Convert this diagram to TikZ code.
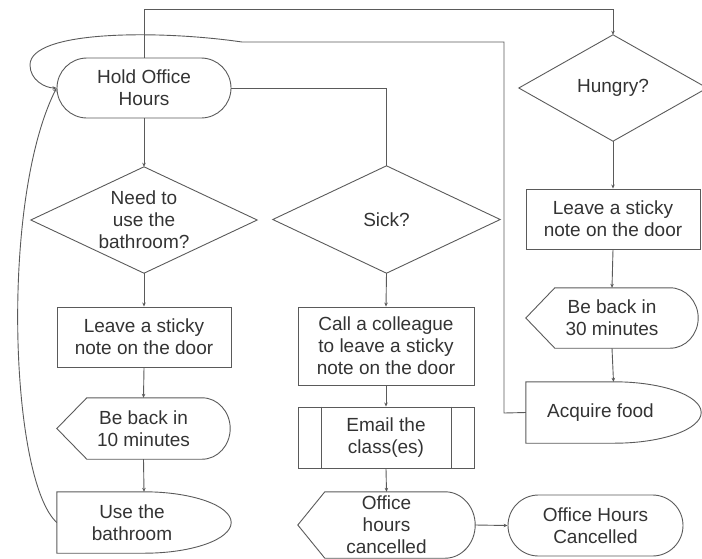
\documentclass[tikz,border=0pt]{standalone}
\usepackage{fontspec}
\setmainfont{Liberation Sans}
\usetikzlibrary{calc,arrows.meta,shapes.misc}
\definecolor{lineg}{HTML}{5A5A5A}
\definecolor{textg}{HTML}{333333}
\tikzset{
  shapeline/.style={draw=lineg, line width=0.9pt, line join=miter},
  conn/.style={draw=lineg, line width=0.9pt},
  arr/.style={conn, -{Stealth[length=4pt,width=3.5pt]}},
  holder/.style={draw=none, inner sep=0pt, align=center, text=textg,
    font=\fontsize{19}{22}\selectfont},
  boxnode/.style={holder, draw=lineg, line width=0.9pt},
  stadium/.style={holder, draw=lineg, line width=0.9pt, rounded rectangle},
}
% display shape: name, d (left point depth), r (right x radius), hh (half height)
\newcommand\dispshape[4]{%
  \draw[shapeline] (#1.west) -- ($(#1.north west)+(#2,0)$) -- ($(#1.north east)+(-#3,0)$)
    .. controls +(0.5523*#3,0) and ($(#1.east)+(0,-0.5523*#4)$) .. (#1.east)
    .. controls ($(#1.east)+(0,0.5523*#4)$) and ($(#1.south east)+(-0.4477*#3,0)$) .. ($(#1.south east)+(-#3,0)$)
    -- ($(#1.south west)+(#2,0)$) -- cycle;}
% delay-like shape: name, rx, hh
\newcommand\delayshape[3]{%
  \draw[shapeline] (#1.north west) -- ($(#1.north east)+(-#2,0)$)
    .. controls +(0.5523*#2,0) and ($(#1.east)+(0,-0.5523*#3)$) .. (#1.east)
    .. controls ($(#1.east)+(0,0.5523*#3)$) and ($(#1.south east)+(-0.4477*#2,0)$) .. ($(#1.south east)+(-#2,0)$)
    -- (#1.south west) -- cycle;}
\newcommand\diamondshape[1]{%
  \draw[shapeline] (#1.north) -- (#1.east) -- (#1.south) -- (#1.west) -- cycle;}
\begin{document}
\begin{tikzpicture}[x=1pt,y=-1pt]
\useasboundingbox (0,0) rectangle (702,558);
% left column
\node[stadium, minimum width=174pt, minimum height=60pt] (hold) at (144,88) {Hold Office\\Hours};
\node[holder, minimum width=226pt, minimum height=106pt] (need) at (144,220) {Need to\\use the\\bathroom?};
\diamondshape{need}
\node[boxnode, minimum width=174pt, minimum height=60pt] (leaveA) at (144,337) {Leave a sticky\\note on the door};
\node[holder, minimum width=173pt, minimum height=61pt] (backA) at (143.5,428.5) {Be back in\\10 minutes};
\dispshape{backA}{30}{28}{30.5}
\node[holder, minimum width=174pt, minimum height=61pt] (use) at (144,522.5) {Use the\hspace*{24pt}\\bathroom\hspace*{24pt}};
\delayshape{use}{87}{30.5}
% middle column
\node[holder, minimum width=227pt, minimum height=107pt] (sick) at (386.5,219.5) {Sick?};
\diamondshape{sick}
\node[boxnode, minimum width=176pt, minimum height=78pt] (call) at (386,346) {Call a colleague\\to leave a sticky\\note on the door};
\node[boxnode, minimum width=176pt, minimum height=61pt] (email) at (386,437.5) {Email the\\class(es)};
\draw[shapeline] ($(email.north west)+(24,0)$) -- ($(email.south west)+(24,0)$);
\draw[shapeline] ($(email.north east)+(-23,0)$) -- ($(email.south east)+(-23,0)$);
\node[holder, minimum width=177pt, minimum height=66pt] (ohc) at (386.5,525) {Office\\hours\\cancelled};
\dispshape{ohc}{27}{30}{33}
\node[stadium, minimum width=175pt, minimum height=61pt] (ohcend) at (595.5,525.5) {Office Hours\\Cancelled};
% right column
\node[holder, minimum width=188pt, minimum height=106pt] (hungry) at (613,88) {Hungry?};
\diamondshape{hungry}
\node[boxnode, minimum width=174pt, minimum height=60pt] (leaveB) at (613,219) {Leave a sticky\\note on the door};
\node[holder, minimum width=172pt, minimum height=60pt] (backB) at (612,318) {Be back in\\30 minutes};
\dispshape{backB}{29}{28}{30}
\node[holder, minimum width=175pt, minimum height=61pt] (acq) at (613.5,412.5) {Acquire food\hspace*{26pt}};
\delayshape{acq}{87}{30.5}
% bend points
\coordinate (topR) at (613,9);
\coordinate (acqL) at (504,413);
\coordinate (acqT) at (504,42);
\coordinate (curveS) at (242,42);
% connectors
\draw[arr] (hold.north) |- (topR) -- (hungry.north);
\draw[conn] (hold.east) -| (sick.north);
\draw[arr] (hold.south) -- (need.north);
\draw[arr] (need.south) -- (leaveA.north);
\draw[arr] (leaveA.south) -- (backA.north);
\draw[arr] (backA.south) -- (use.north);
\draw[arr] (use.west) .. controls (10,480) and (0,200) .. (hold.west);
\draw[arr] (sick.south) -- (call.north);
\draw[arr] (call.south) -- (email.north);
\draw[arr] (email.south) -- (ohc.north);
\draw[arr] (ohc.east) -- (ohcend.west);
\draw[arr] (hungry.south) -- (leaveB.north);
\draw[arr] (leaveB.south) -- (backB.north);
\draw[arr] (backB.south) -- (acq.north);
\draw[arr] (acq.west) -- (acqL) -- (acqT) -- (curveS)
   .. controls (160,30) and (30,30) .. (30,65)
   .. controls (30,80) and (45,88) .. (hold.west);
\end{tikzpicture}
\end{document}
